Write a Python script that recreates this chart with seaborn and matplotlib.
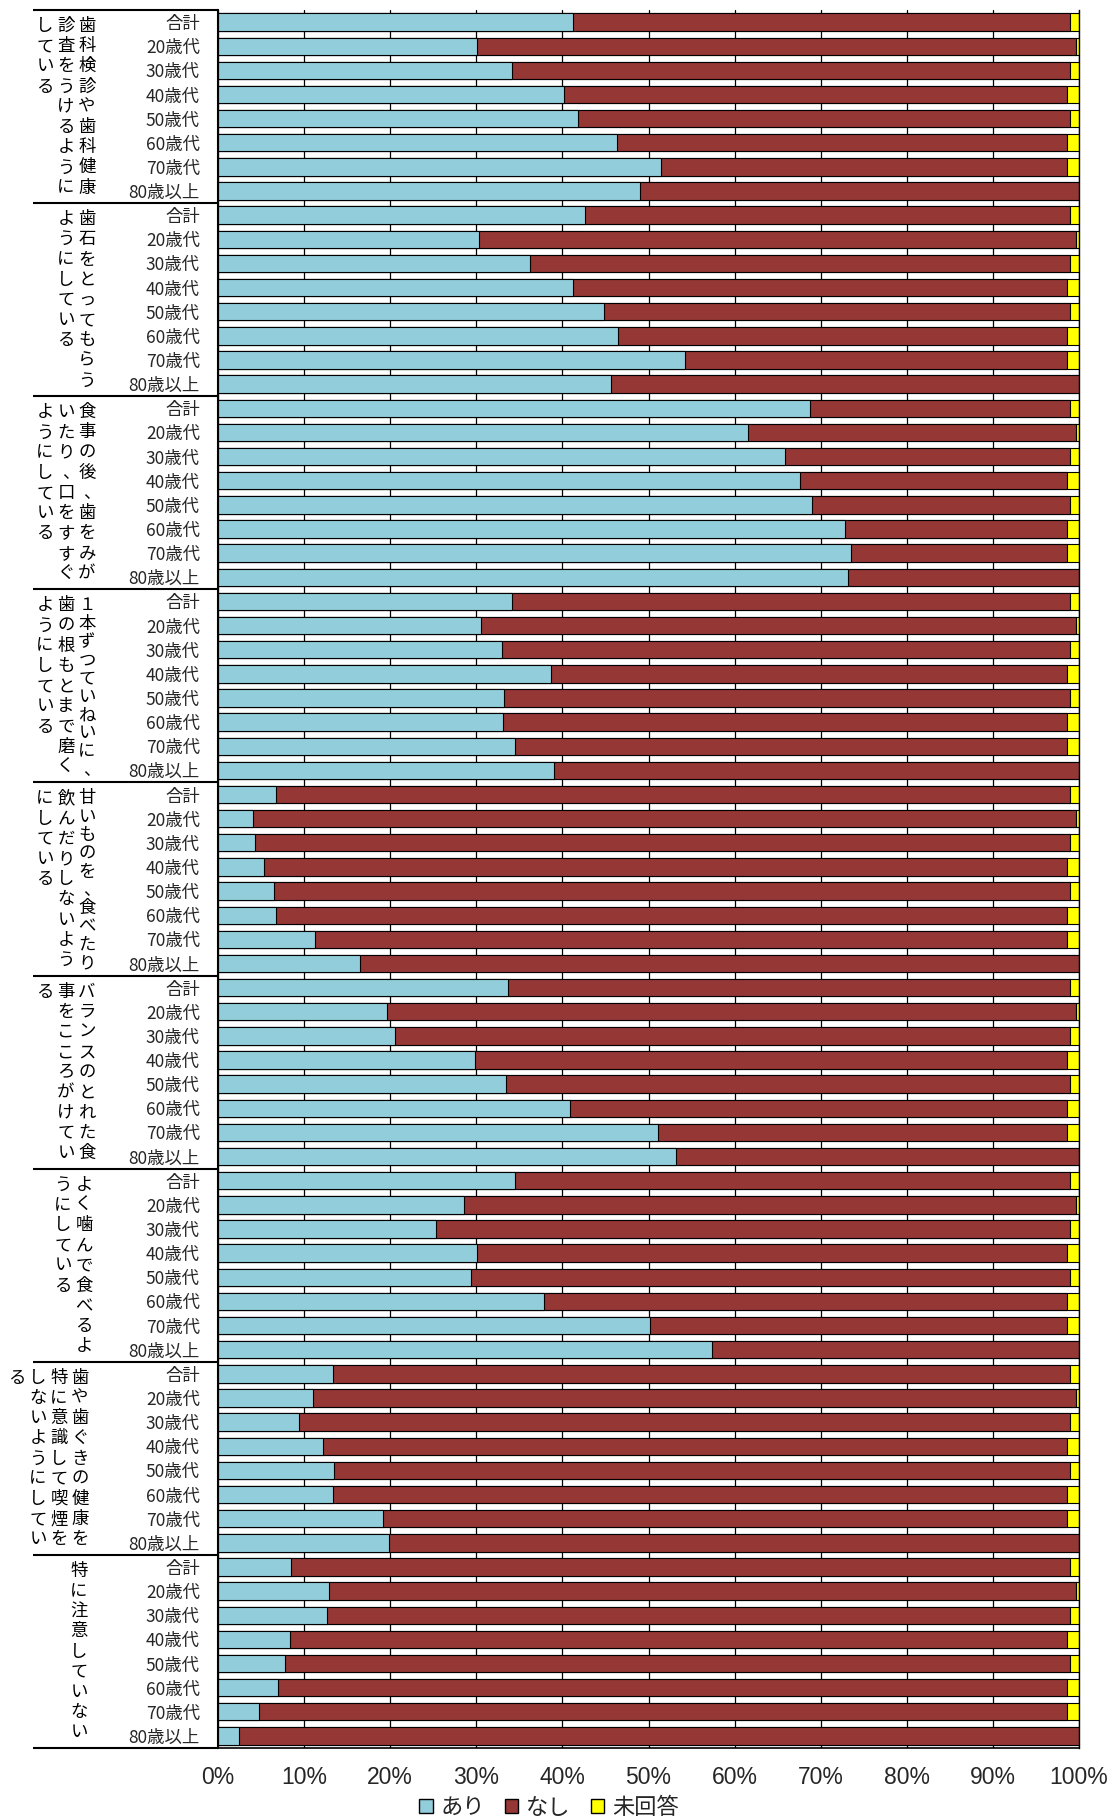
import matplotlib
matplotlib.use("Agg")
import matplotlib.pyplot as plt
from matplotlib.patches import Patch
import pandas as pd
import seaborn as sns

sns.set_theme(style="white")
plt.rcParams['font.family'] = ['Noto Sans CJK JP', 'DejaVu Sans']

# ---- data ----
age_labels = ["合計", "20歳代", "30歳代", "40歳代", "50歳代", "60歳代", "70歳代", "80歳以上"]

group_names = [
    "歯科検診や歯科健康診査をうけるようにしている",
    "歯石をとってもらうようにしている",
    "食事の後、歯をみがいたり、口をすすぐようにしている",
    "１本ずつていねいに、歯の根もとまで磨くようにしている",
    "甘いものを、食べたり飲んだりしないようにしている",
    "バランスのとれた食事をこころがけている",
    "よく噛んで食べるようにしている",
    "歯や歯ぐきの健康を特に意識して喫煙をしないようにしている",
    "特に注意していない",
]

# how each label is broken into vertical columns (right to left)
group_columns = [
    ["歯科検診や歯科健康", "診査をうけるように", "している"],
    ["歯石をとってもらう", "ようにしている"],
    ["食事の後、歯をみが", "いたり、口をすすぐ", "ようにしている"],
    ["１本ずつていねいに、", "歯の根もとまで磨く", "ようにしている"],
    ["甘いものを、食べたり", "飲んだりしないよう", "にしている"],
    ["バランスのとれた食", "事をこころがけてい", "る"],
    ["よく噛んで食べるよ", "うにしている"],
    ["歯や歯ぐきの健康を", "特に意識して喫煙を", "しないようにしてい", "る"],
    ["特に注意していない"],
]

# share answering "あり" (%), one list per item, ordered like age_labels
ari = [
    [41.2, 30.1, 34.1, 40.2, 41.8, 46.3, 51.5, 49.0],
    [42.6, 30.3, 36.2, 41.2, 44.8, 46.4, 54.2, 45.6],
    [68.8, 61.5, 65.9, 67.6, 69.0, 72.8, 73.5, 73.2],
    [34.2, 30.5, 33.0, 38.7, 33.2, 33.1, 34.5, 39.0],
    [6.7, 4.1, 4.3, 5.4, 6.5, 6.7, 11.3, 16.5],
    [33.7, 19.6, 20.5, 29.9, 33.4, 40.9, 51.1, 53.2],
    [34.5, 28.6, 25.3, 30.1, 29.4, 37.9, 50.2, 57.4],
    [13.3, 11.0, 9.4, 12.2, 13.5, 13.3, 19.2, 19.9],
    [8.5, 12.9, 12.7, 8.4, 7.8, 7.0, 4.8, 2.4],
]
# "未回答" share (%) by age group, the same for every item
mikaito = [1.1, 0.4, 1.1, 1.35, 1.0, 1.35, 1.35, 0.0]

c_ari = "#92CDDC"
c_nashi = "#953735"
c_mikaito = "#FFFF00"

rows = []
for g, name in enumerate(group_names):
    for a, age in enumerate(age_labels):
        rows.append({"row": f"{g}-{a}", "group": name, "age": age,
                     "ari": ari[g][a], "mikaito": mikaito[a]})
df = pd.DataFrame(rows)
df["nashi"] = 100 - df["ari"] - df["mikaito"]
df["end_nashi"] = df["ari"] + df["nashi"]
df["end_all"] = df["end_nashi"] + df["mikaito"]

W, H = 1118, 1819
fig = plt.figure(figsize=(W / 100, H / 100), dpi=100)
left, right, top, bottom = 218, 1079, 10, 1748
ax = fig.add_axes([left / W, 1 - bottom / H, (right - left) / W, (bottom - top) / H])

# stacked bars drawn as layered cumulative sums
for col, color in [("end_all", c_mikaito), ("end_nashi", c_nashi), ("ari", c_ari)]:
    sns.barplot(data=df, x=col, y="row", orient="h", color=color, saturation=1,
                edgecolor="black", linewidth=0.8, width=0.72, errorbar=None, ax=ax)

n = len(df)
ax.set_xlim(0, 100)
ax.set_ylim(n - 0.5, -0.5)
ax.set_xlabel("")
ax.set_ylabel("")

ax.set_xticks(range(0, 101, 10))
ax.set_xticklabels([f"{v}%" for v in range(0, 101, 10)], fontsize=16.5,
                   fontfamily="Liberation Sans")
ax.tick_params(axis="x", length=0, pad=13)
ax.set_yticks(range(n))
ax.set_yticklabels(age_labels * len(group_names), fontsize=12.5)
ax.tick_params(axis="y", length=0, pad=13)

ax.set_axisbelow(True)
ax.xaxis.grid(True, color="black", linewidth=0.9)
ax.yaxis.grid(False)
for side in ["left", "right", "bottom"]:
    ax.spines[side].set_color("black")
ax.spines["left"].set_linewidth(1.5)
ax.spines["right"].set_linewidth(1.0)
ax.spines["bottom"].set_linewidth(1.2)
ax.spines["top"].set_visible(False)

# group separators on the left
trans = ax.get_yaxis_transform()
axw = right - left
slot = (bottom - top) / n
for b in range(len(group_names) + 1):
    y = 8 * b - 0.5
    ax.plot([(33 - left) / axw, 0], [y, y], transform=trans, color="black",
            lw=1.5, clip_on=False, solid_capstyle="butt")

# vertical group labels, one character per line
col_right = [87, 87, 87, 87, 87, 87, 84, 80, 79]
for g, cols in enumerate(group_columns):
    for ci, text in enumerate(cols):
        xp = col_right[g] - 21 * ci
        step = 20.2 if len(text) <= 9 else 18.3
        for k, ch in enumerate(text):
            dx = 5 if ch == "、" else 0
            y = 8 * g - 0.5 + (16 + step * k) / slot
            ax.text((xp + dx - left) / axw, y, ch, transform=trans, ha="center",
                    va="center", fontsize=12.5, color="black")

handles = [Patch(facecolor=c_ari, edgecolor="black", label="あり"),
           Patch(facecolor=c_nashi, edgecolor="black", label="なし"),
           Patch(facecolor=c_mikaito, edgecolor="black", label="未回答")]
fig.legend(handles=handles, loc="center", bbox_to_anchor=(549 / W, 1 - 1807 / H),
           ncol=3, frameon=False, fontsize=16, handlelength=0.6, handleheight=0.6,
           handletextpad=0.35, columnspacing=0.9, borderpad=0)

fig.savefig("out.png", dpi=100)
